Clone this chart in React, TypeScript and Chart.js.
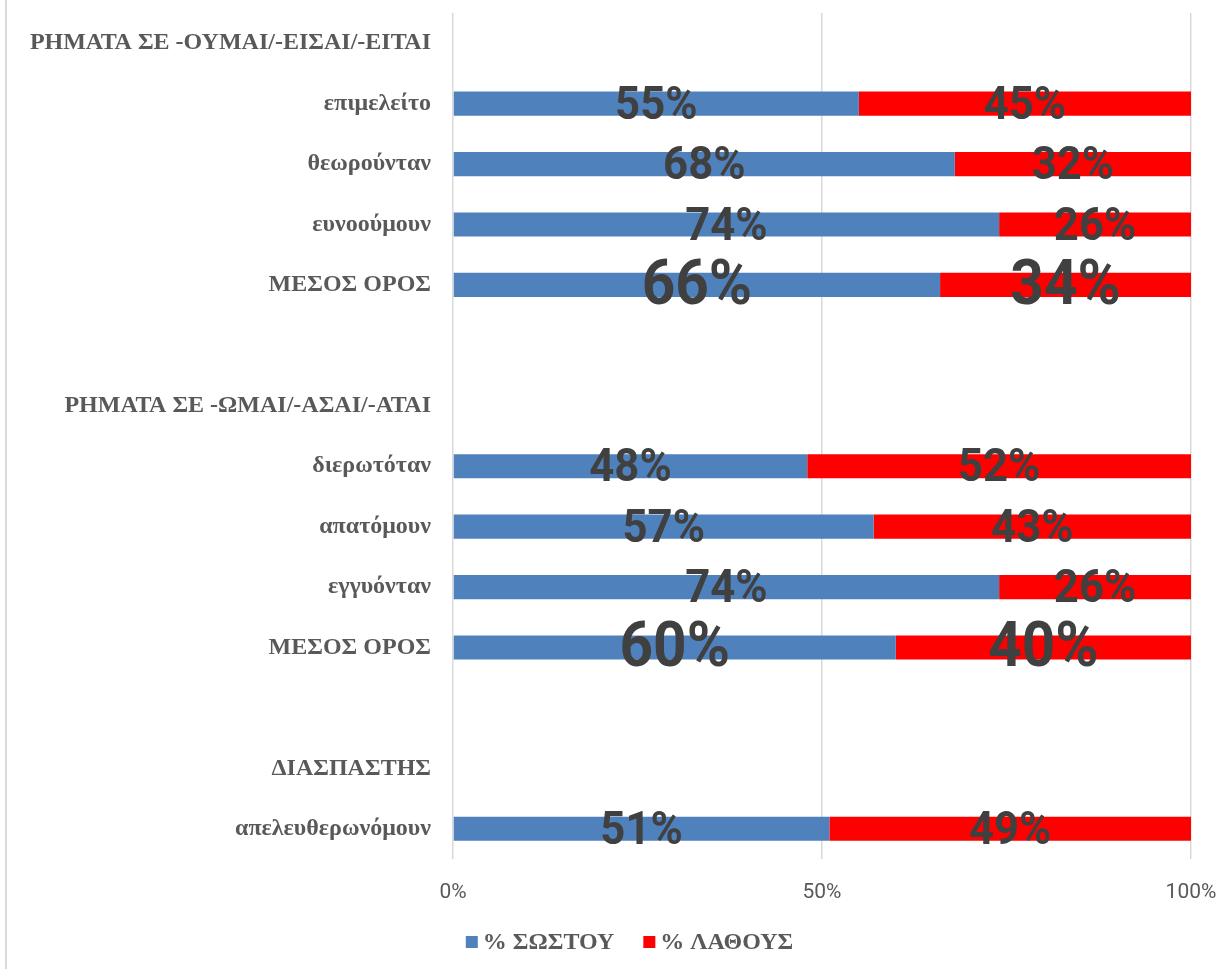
import React, { useEffect, useRef } from "react";
import { Chart, registerables } from "chart.js";

Chart.register(...registerables);

// Row labels, top to bottom: section headers, verbs, averages and spacer rows.
const categories = [
  "ΡΗΜΑΤΑ ΣΕ -ΟΥΜΑΙ/-ΕΙΣΑΙ/-ΕΙΤΑΙ",
  "επιμελείτο",
  "θεωρούνταν",
  "ευνοούμουν",
  "ΜΕΣΟΣ ΟΡΟΣ",
  "",
  "ΡΗΜΑΤΑ ΣΕ -ΩΜΑΙ/-ΑΣΑΙ/-ΑΤΑΙ",
  "διερωτόταν",
  "απατόμουν",
  "εγγυόνταν",
  "ΜΕΣΟΣ ΟΡΟΣ",
  "",
  "ΔΙΑΣΠΑΣΤΗΣ",
  "απελευθερωνόμουν",
];

const correctPct = [null, 55, 68, 74, 66, null, null, 48, 57, 74, 60, null, null, 51];
const wrongPct = [null, 45, 32, 26, 34, null, null, 52, 43, 26, 40, null, null, 49];

const seriesNames = ["% ΣΩΣΤΟΥ", "% ΛΑΘΟΥΣ"];
const seriesColors = ["#4F81BD", "#FF0000"];

const xTicks = [0, 50, 100];
const averageLabel = "ΜΕΣΟΣ ΟΡΟΣ";

// Percentage labels centred on each bar segment; averages get a larger size.
// Glyphs are narrowed slightly for a condensed look.
const segmentLabels = {
  id: "segmentLabels",
  afterDatasetsDraw(chart: any) {
    const ctx = chart.ctx;
    const squeeze = 0.93;
    ctx.save();
    ctx.fillStyle = "#404040";
    ctx.textAlign = "center";
    ctx.textBaseline = "middle";
    chart.data.datasets.forEach((ds: any, di: number) => {
      const meta = chart.getDatasetMeta(di);
      meta.data.forEach((el: any, i: number) => {
        const v = ds.data[i];
        if (v === null || v === undefined) return;
        const big = chart.data.labels[i] === averageLabel;
        const cx = (el.x + el.base) / 2;
        const cy = el.y + (big ? 3 : 3.5);
        ctx.save();
        ctx.translate(cx, cy);
        ctx.scale(squeeze, 1);
        ctx.font = `bold ${big ? 63 : 47}px Roboto`;
        ctx.fillText(`${v}%`, 0, 0);
        ctx.restore();
      });
    });
    ctx.restore();
  },
};

// Legend row under the plot: small square swatch followed by the series name.
const bottomLegend = {
  id: "bottomLegend",
  afterDraw(chart: any) {
    const ctx = chart.ctx;
    ctx.save();
    ctx.font = "bold 24px 'Liberation Serif'";
    ctx.textBaseline = "middle";
    const box = 12;
    const gap = 5;
    const itemGap = 29;
    const widths = chart.data.datasets.map((ds: any) => box + gap + ctx.measureText(ds.label).width);
    const total = widths.reduce((a: number, b: number) => a + b, 0) + itemGap * (widths.length - 1);
    const cy = chart.height - 27;
    let x = chart.width / 2 + 20 - total / 2;
    chart.data.datasets.forEach((ds: any, i: number) => {
      ctx.fillStyle = ds.backgroundColor;
      ctx.fillRect(x, cy - box / 2, box, box);
      ctx.fillStyle = "#595959";
      ctx.fillText(ds.label, x + box + gap, cy + 1);
      x += widths[i] + itemGap;
    });
    ctx.restore();
  },
};

export default function App() {
  const canvasRef = useRef<HTMLCanvasElement | null>(null);

  useEffect(() => {
    if (!canvasRef.current) return;
    const chart = new Chart(canvasRef.current, {
      type: "bar",
      data: {
        labels: categories,
        datasets: [
          {
            label: seriesNames[0],
            data: correctPct,
            backgroundColor: seriesColors[0],
            barPercentage: 0.4,
            categoryPercentage: 1,
          },
          {
            label: seriesNames[1],
            data: wrongPct,
            backgroundColor: seriesColors[1],
            barPercentage: 0.4,
            categoryPercentage: 1,
          },
        ],
      },
      options: {
        indexAxis: "y",
        animation: false,
        responsive: true,
        maintainAspectRatio: false,
        layout: { padding: { top: 13, right: 28, left: 0, bottom: 0 } },
        plugins: {
          legend: { display: false },
          tooltip: { enabled: false },
        },
        scales: {
          x: {
            stacked: true,
            min: 0,
            max: 100,
            afterBuildTicks: (scale: any) => {
              scale.ticks = xTicks.map((v) => ({ value: v }));
            },
            afterFit: (scale: any) => {
              scale.height = 110;
              scale.paddingLeft = 0;
              scale.paddingRight = 0;
            },
            grid: { color: "#D9D9D9", lineWidth: 1.5, drawTicks: false },
            border: { display: false },
            ticks: {
              padding: 21,
              color: "#595959",
              font: { family: "Roboto", size: 21 },
              callback: (v: any) => `${v}%`,
            },
          },
          y: {
            stacked: true,
            afterFit: (scale: any) => {
              scale.width = 453;
              scale.paddingTop = 0;
              scale.paddingBottom = 0;
            },
            grid: { display: false, drawTicks: false },
            border: { display: false },
            ticks: {
              padding: 22,
              autoSkip: false,
              color: "#595959",
              font: { family: "'Liberation Serif'", size: 24, weight: "bold" },
            },
          },
        },
      },
      plugins: [segmentLabels, bottomLegend],
    });
    return () => chart.destroy();
  }, []);

  return (
    <div style={{ position: "fixed", left: 0, top: 0, width: 1219, height: 969, background: "#fff" }}>
      <div style={{ position: "absolute", left: 5, top: 0, width: 2, height: 969, background: "#D9D9D9" }} />
      <canvas ref={canvasRef} />
    </div>
  );
}
